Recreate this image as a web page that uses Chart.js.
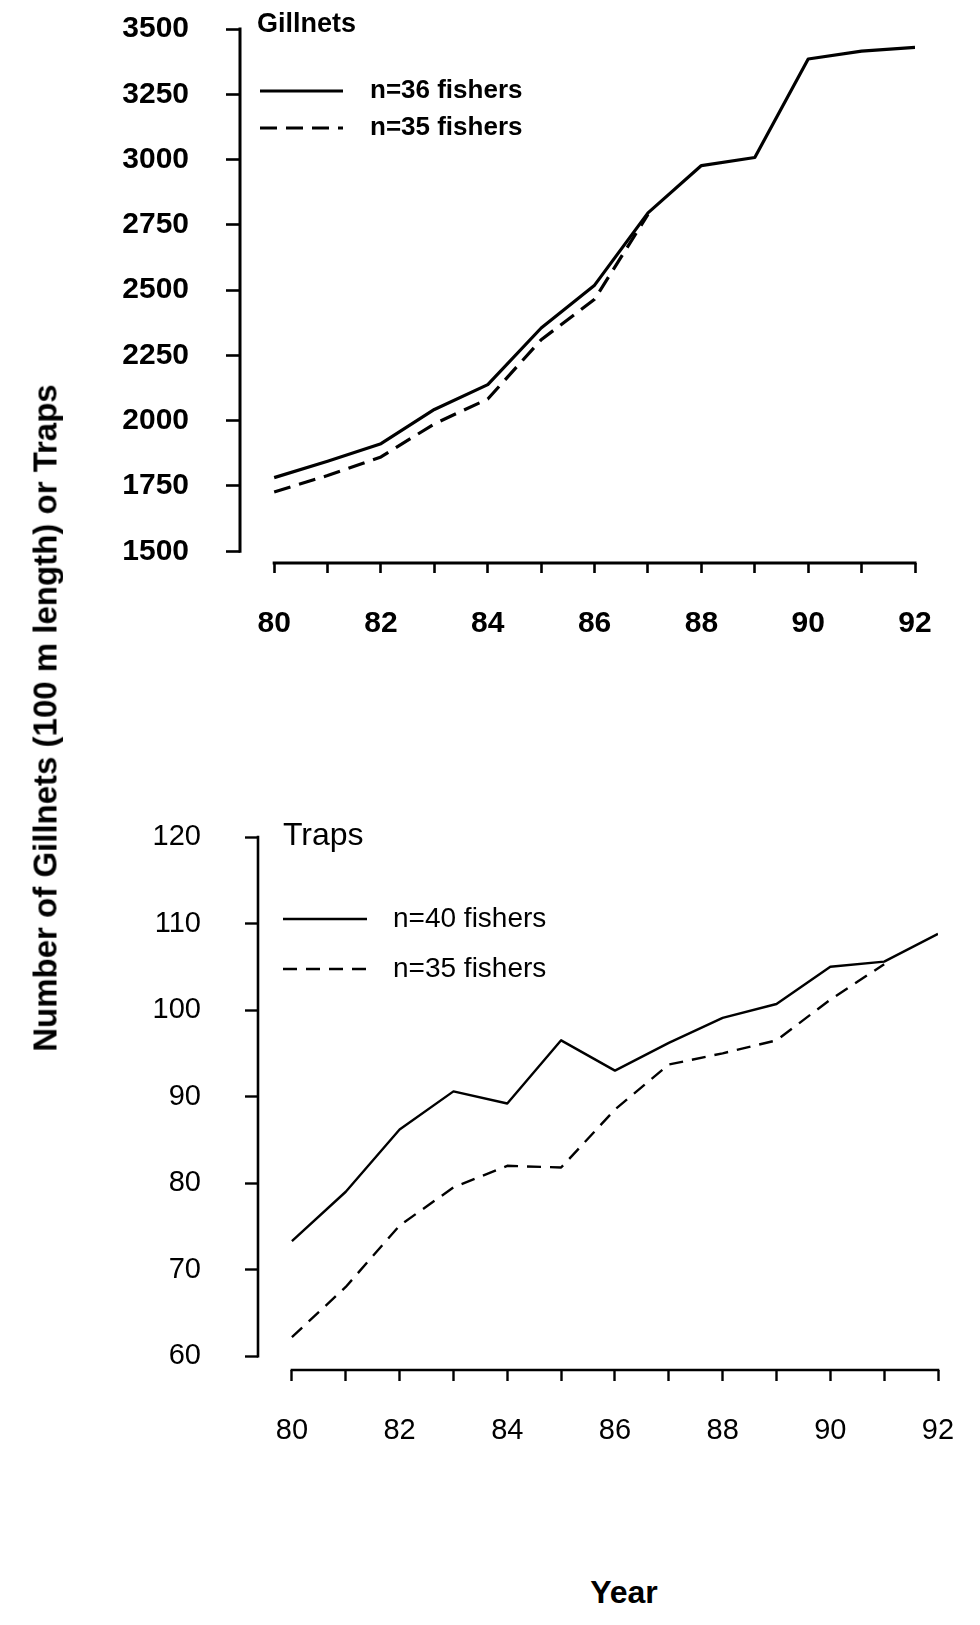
<!DOCTYPE html>
<html>
<head>
<meta charset="utf-8">
<script src="https://cdn.jsdelivr.net/npm/chart.js@4.4.1/dist/chart.umd.min.js"></script>
<style>
  html, body { margin: 0; padding: 0; background: #fff; }
  #page { position: relative; width: 980px; height: 1625px; overflow: hidden; background: #fff;
          font-family: "Liberation Sans", Arial, Helvetica, sans-serif; color: #000; }
  #c1 { position: absolute; left: 0; top: 0; }
  #c2 { position: absolute; left: 0; top: 700px; }
  #ytitle { position: absolute; left: 45px; top: 718px; transform: translate(-50%, -50%) rotate(-90deg);
            white-space: nowrap; font-weight: bold; font-size: 33px; line-height: 1; }
  #xtitle { position: absolute; left: 624px; top: 1592px; transform: translate(-50%, -50%);
            white-space: nowrap; font-weight: bold; font-size: 32px; line-height: 1; }
</style>
</head>
<body>
<div id="page">
  <canvas id="c1" width="980" height="680"></canvas>
  <canvas id="c2" width="980" height="800"></canvas>
  <div id="ytitle">Number of Gillnets (100 m length) or Traps</div>
  <div id="xtitle">Year</div>
</div>
<script>
// ---------------- data ----------------
const yearTicks = [80, 81, 82, 83, 84, 85, 86, 87, 88, 89, 90, 91, 92];

const gillnetYears36 = [80, 81, 82, 83, 84, 85, 86, 87, 88, 89, 90, 91, 92];
const gillnets36 = [1782, 1845, 1912, 2043, 2138, 2355, 2519, 2796, 2977, 3008, 3385, 3415, 3430];
const gillnetYears35 = [80, 81, 82, 83, 84, 85, 86, 87];
const gillnets35 = [1727, 1790, 1861, 1988, 2083, 2310, 2465, 2790];
const gillnetTicks = [1500, 1750, 2000, 2250, 2500, 2750, 3000, 3250, 3500];

const trapYears40 = [80, 81, 82, 83, 84, 85, 86, 87, 88, 89, 90, 91, 92];
const traps40 = [73.3, 79.0, 86.2, 90.6, 89.2, 96.5, 93.0, 96.2, 99.1, 100.7, 105.0, 105.6, 108.8];
const trapYears35 = [80, 81, 82, 83, 84, 85, 86, 87, 88, 89, 90, 91];
const traps35 = [62.2, 68.0, 75.1, 79.5, 82.0, 81.8, 88.5, 93.7, 95.0, 96.5, 101.2, 105.3];
const trapTicks = [60, 70, 80, 90, 100, 110, 120];

const FONT = '"Liberation Sans", Arial, Helvetica, sans-serif';

function pts(xs, ys) { return xs.map((x, i) => ({ x: x, y: ys[i] })); }

// axis lines drawn from the scales
const axisLines = {
  id: 'axisLines',
  afterDraw(chart, args, o) {
    const { ctx, chartArea, scales: { x, y } } = chart;
    ctx.save();
    ctx.strokeStyle = '#000';
    ctx.lineWidth = o.width;
    ctx.lineCap = 'square';
    ctx.beginPath();
    ctx.moveTo(chartArea.left, y.getPixelForValue(o.yFrom));
    ctx.lineTo(chartArea.left, y.getPixelForValue(o.yTo));
    ctx.moveTo(x.getPixelForValue(o.xFrom), chartArea.bottom);
    ctx.lineTo(x.getPixelForValue(o.xTo), chartArea.bottom);
    ctx.stroke();
    ctx.restore();
  }
};

// panel title + in-plot legend
const panelLegend = {
  id: 'panelLegend',
  afterDraw(chart, args, o) {
    const ctx = chart.ctx;
    ctx.save();
    ctx.fillStyle = '#000';
    ctx.textBaseline = 'middle';
    ctx.textAlign = 'left';
    ctx.font = o.titleFont;
    ctx.fillText(o.title, o.titleX, o.titleY);
    ctx.font = o.font;
    chart.data.datasets.forEach((ds, i) => {
      const yy = o.rows[i];
      ctx.strokeStyle = '#000';
      ctx.lineWidth = o.lineWidth;
      ctx.setLineDash(ds.borderDash || []);
      ctx.beginPath();
      ctx.moveTo(o.lineX1, yy);
      ctx.lineTo(o.lineX2, yy);
      ctx.stroke();
      ctx.setLineDash([]);
      ctx.fillText(ds.label, o.textX, yy);
    });
    ctx.restore();
  }
};

function makeOptions(p) {
  return {
    responsive: false,
    animation: false,
    devicePixelRatio: 1,
    layout: { padding: { left: 0, top: p.top, right: p.right, bottom: 0 } },
    elements: { point: { radius: 0 }, line: { tension: 0, borderCapStyle: 'butt', borderJoinStyle: 'round' } },
    plugins: {
      legend: { display: false },
      tooltip: { enabled: false },
      axisLines: p.axis,
      panelLegend: p.legend
    },
    scales: {
      x: {
        type: 'linear', min: p.xMin, max: 92,
        afterBuildTicks: s => { s.ticks = yearTicks.map(v => ({ value: v })); },
        afterFit: s => { s.height = p.xHeight; s.paddingLeft = 0; s.paddingRight = 0; },
        border: { display: false },
        grid: { drawOnChartArea: false, drawTicks: true, tickLength: p.xTickLen, tickWidth: p.tickWidth, tickColor: '#000' },
        ticks: {
          autoSkip: false, maxRotation: 0, minRotation: 0, padding: p.xPad, color: '#000',
          font: { family: FONT, size: p.numSize, weight: p.numWeight },
          callback: v => (v % 2 === 0 ? String(v) : '')
        }
      },
      y: {
        type: 'linear', min: p.yMin, max: p.yMax,
        afterBuildTicks: s => { s.ticks = p.yTicks.map(v => ({ value: v })); },
        afterFit: s => { s.width = p.yWidth; s.paddingTop = 0; s.paddingBottom = 0; },
        border: { display: false },
        grid: { drawOnChartArea: false, drawTicks: true, tickLength: p.yTickLen, tickWidth: p.tickWidth, tickColor: '#000' },
        ticks: {
          padding: p.yPad, color: '#000',
          font: { family: FONT, size: p.numSize, weight: p.numWeight },
          callback: v => String(v)
        }
      }
    }
  };
}

// ---------------- top chart: gillnets ----------------
new Chart(document.getElementById('c1'), {
  type: 'line',
  data: {
    datasets: [
      { label: 'n=36 fishers', data: pts(gillnetYears36, gillnets36), borderColor: '#000', borderWidth: 3.2, fill: false },
      { label: 'n=35 fishers', data: pts(gillnetYears35, gillnets35), borderColor: '#000', borderWidth: 3.2, borderDash: [17, 9], fill: false }
    ]
  },
  options: makeOptions({
    top: 29, right: 65, xMin: 79.36, xHeight: 117, yMin: 1455, yMax: 3500, yTicks: gillnetTicks,
    yWidth: 240, xTickLen: 10, yTickLen: 14, tickWidth: 2.6, xPad: 33, yPad: 37,
    numSize: 30, numWeight: 'bold',
    axis: { width: 3, yFrom: 1500, yTo: 3500, xFrom: 80, xTo: 92 },
    legend: {
      title: 'Gillnets', titleFont: 'bold 27px ' + FONT, titleX: 257, titleY: 25,
      font: 'bold 26px ' + FONT, rows: [91, 128], lineX1: 260, lineX2: 343, textX: 370, lineWidth: 3
    }
  }),
  plugins: [axisLines, panelLegend]
});

// ---------------- bottom chart: traps ----------------
new Chart(document.getElementById('c2'), {
  type: 'line',
  data: {
    datasets: [
      { label: 'n=40 fishers', data: pts(trapYears40, traps40), borderColor: '#000', borderWidth: 2.4, fill: false },
      { label: 'n=35 fishers', data: pts(trapYears35, traps35), borderColor: '#000', borderWidth: 2.4, borderDash: [14, 9], fill: false }
    ]
  },
  options: makeOptions({
    top: 137, right: 42, xMin: 79.37, xHeight: 130, yMin: 58.4, yMax: 120, yTicks: trapTicks,
    yWidth: 258, xTickLen: 11, yTickLen: 13, tickWidth: 2.4, xPad: 33, yPad: 44,
    numSize: 29, numWeight: 'normal',
    axis: { width: 2.6, yFrom: 60, yTo: 120, xFrom: 80, xTo: 92 },
    legend: {
      title: 'Traps', titleFont: '32px ' + FONT, titleX: 283, titleY: 136,
      font: '28px ' + FONT, rows: [219, 269], lineX1: 283, lineX2: 367, textX: 393, lineWidth: 2.4
    }
  }),
  plugins: [axisLines, panelLegend]
});
</script>
</body>
</html>
